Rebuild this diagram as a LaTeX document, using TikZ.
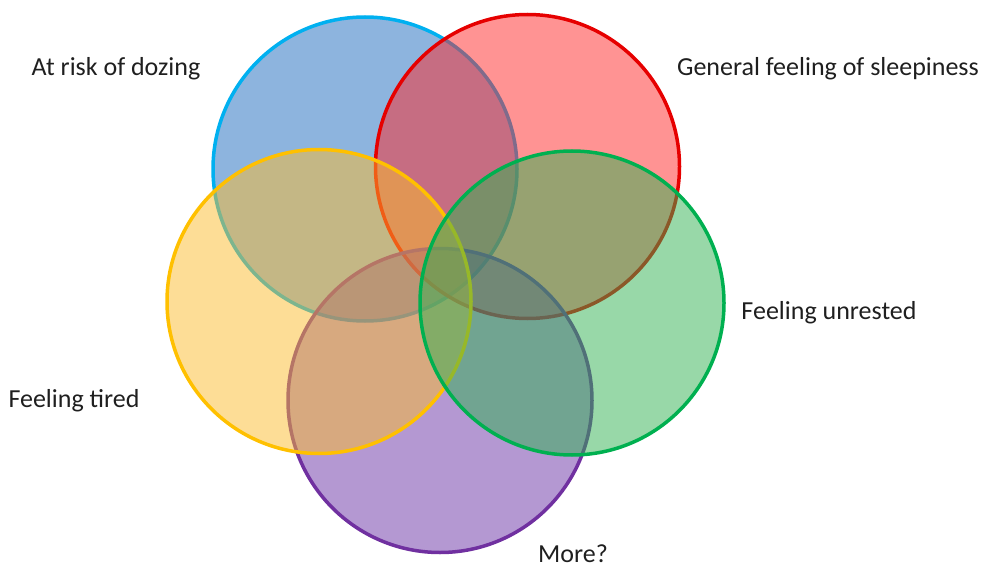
\documentclass[tikz,border=0pt]{standalone}
\usepackage{fontspec}
\setmainfont{Carlito}
\definecolor{fblue}{RGB}{27,105,189}
\definecolor{dblue}{RGB}{0,176,240}
\definecolor{fred}{RGB}{255,40,40}
\definecolor{dred}{RGB}{230,0,0}
\definecolor{fyellow}{RGB}{251,187,45}
\definecolor{dyellow}{RGB}{255,192,0}
\definecolor{fgreen}{RGB}{49,177,81}
\definecolor{dgreen}{RGB}{0,176,80}
\definecolor{fpurple}{RGB}{105,49,165}
\definecolor{dpurple}{RGB}{112,48,160}
\begin{document}
\begin{tikzpicture}[x=1pt,y=-1pt,
  venn/.style={circle, minimum size=304pt, inner sep=0pt, line width=3.5pt, fill opacity=0.5},
  lbl/.style={font=\fontsize{26}{30}\selectfont, anchor=base, text=black!88, inner sep=0pt}]
\useasboundingbox (0,0) rectangle (983,567);
\node[venn, draw=dblue, fill=fblue] (blue) at (365,169) {};
\node[venn, draw=dred, fill=fred] (red) at (527.5,166.5) {};
\node[venn, draw=dpurple, fill=fpurple] (purple) at (440,400.5) {};
\node[venn, draw=dyellow, fill=fyellow] (yellow) at (319,301.5) {};
\node[venn, draw=dgreen, fill=fgreen] (green) at (572,303) {};
\node[lbl] (t1) at (116,76) {At risk of dozing};
\node[lbl] (t2) at (828,76) {General feeling of sleepiness};
\node[lbl] (t3) at (829,319) {Feeling unrested};
\node[lbl] (t4) at (74,407) {Feeling tired};
\node[lbl] (t5) at (573,562) {More?};
\end{tikzpicture}
\end{document}
